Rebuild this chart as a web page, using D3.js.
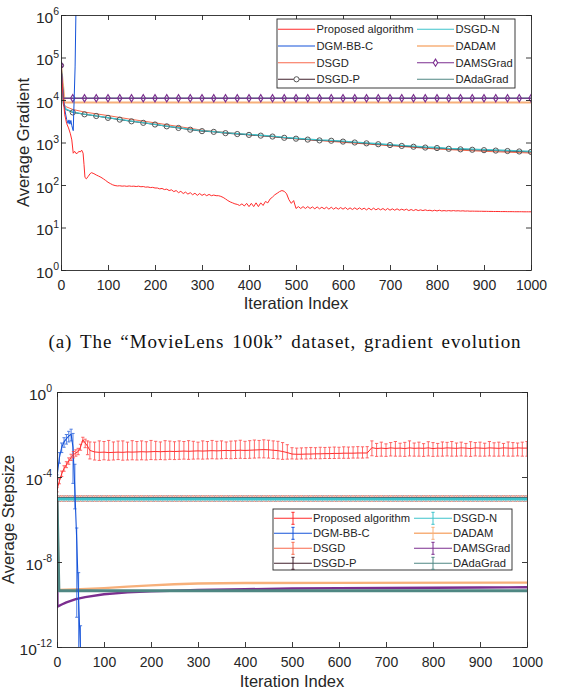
<!DOCTYPE html>
<html>
<head>
<meta charset="utf-8">
<script src="https://cdn.jsdelivr.net/npm/d3@7"></script>
<style>
  body { margin: 0; background: #fff; }
  svg { display: block; }
</style>
</head>
<body>
<svg id="fig" width="562" height="694"></svg>
<script>
// ---------- data ----------
const iterTicks = d3.range(0, 1001, 100);
const gradTicks = [1, 10, 100, 1e3, 1e4, 1e5, 1e6];
const stepTicks = [1e-12, 1e-8, 1e-4, 1];
const markIter = d3.range(0, 1001, 25);

const legendNames = ['Proposed algorithm', 'DGM-BB-C', 'DSGD', 'DSGD-P', 'DSGD-N', 'DADAM', 'DAMSGrad', 'DAdaGrad'];

// (a) average gradient
const propGradIter = [0,3,5,8,12,16,20,23,26,29,32,35,38,41,44,47,49,51,54,58,62,65,70,75,80,85,90,95,100,105,110,115,120]
  .concat(d3.range(125, 1001, 5));
const propGrad = [65000,20000,10000,4500,2800,2200,1600,1150,560,620,
  550,560,620,600,660,560,300,150,140,160,
  185,195,185,172,162,152,140,128,116,108,
  101,97,95,
  // 125 - 345
  96,94,95,93,95,93,94,92,94,91, 92,89,90,87,88,85,85,81,83,78,
  80,74,77,70,74,66,71,63,68,61, 66,59,64,57,63,57,61,56,60,56, 58,56,56,54,51,
  // 350 - 495
  47,43,40,38,36,35,33,36,32,37, 31,37,31,38,31,38,33,41,38,47, 52,59,64,70,74,71,62,45,37,43,
  // 500 - 1000
  28,31,28,31,28,31,28,30.5,27.5,30.5, 27.5,30,27.5,30,27,30,27,29.5,27,29.5,
  27,29.5,26.5,29,26.5,29,26.5,29,26.5,28.5, 26,28.5,26,28.5,26,28,26,28,25.5,28,
  25.5,27.5,25.5,27.5,25.5,27,25.5,27,25,26.5, 25,26.5,25,26,25,26,25,25.5,24.5,25.5,
  24.5,25.5,24.5,25,24.5,25,24.5,25,24.5,24.8, 24.4,24.7,24.3,24.5,24.2,24.3,24.2,24.2,24.1,24.1,
  24.0,24.0,23.9,23.9,23.8,23.8,23.8,23.7,23.7,23.7, 23.6,23.6,23.6,23.5,23.5,23.5,23.5,23.4,23.4,23.4,
  23.4];

const bbGradIter = [0,4,8,12,15,17,19,21,23,26,30,34];
const bbGrad = [65000,15000,6000,3500,2800,3400,2700,3300,2500,1900,60000,5e7];

const dsgdGradIter = [0,5,10,25,50,100,150,200,300,400,500,600,700,800,900,1000];
const dsgdGrad = [65000,8500,7000,6000,5200,4300,3500,2900,1950,1530,1220,1010,840,700,620,565];

const pnGradIter = [0,5,10].concat(d3.range(25, 1001, 25));
const dsgdpGrad = [65000,7900,6000,
  5100,4600,4200,3800,3450,3150,2900,2650,2400,2200,
  2000,1850,1780,1660,1580,1510,1450,1380,1290,1230,
  1170,1120,1100,1050,1000,955,910,870,830,795,
  760,740,710,690,675,660,645,630,615,600];
const dsgdnGrad = [65000,8500,6200,
  5200,4650,4230,3850,3500,3200,2930,2680,2440,2240,
  2040,1900,1810,1700,1620,1550,1480,1410,1320,1260,
  1200,1150,1125,1075,1025,980,935,895,855,818,
  783,763,730,713,697,681,666,650,635,620];

const dadamGradIter = [0,8,1000];
const dadamGrad = [65000,8700,8700];
const damsGradIter = [0,5,1000];
const damsGrad = [65000,11000,11000];
const dadaGradIter = [0,5,1000];
const dadaGrad = [65000,11000,11000];

// (b) average stepsize, log10 values
const propStepIter = [0,5,10,15,20,25,30,35,40,45,50,55,60,65,70].concat(d3.range(80, 1001, 10));
const propStepMean = [-4.6,-4.2,-3.85,-3.6,-3.42,-3.25,-3.08,-2.95,-2.87,-2.8,-2.6,-2.25,-2.4,-2.55,-2.75,
  -2.82,-2.84,-2.83,-2.85,-2.84,-2.83,-2.84,-2.82,-2.83,-2.82,
  -2.81,-2.82,-2.81,-2.80,-2.81,-2.80,-2.79,-2.80,-2.79,-2.78,
  -2.79,-2.78,-2.77,-2.78,-2.77,-2.76,-2.77,-2.76,-2.75,-2.76,
  -2.75,-2.74,-2.75,-2.74,-2.73,-2.72,-2.71,-2.72,-2.74,-2.76,
  -2.8,-2.85,
  -2.92,-2.93,-2.93,-2.92,-2.92,-2.91,-2.91,-2.9,-2.9,-2.89,-2.89,-2.88,-2.88,-2.88,-2.87,-2.87,-2.87,
  -2.62,-2.66,-2.64,-2.66,-2.63,-2.65,-2.64,-2.66,-2.63,-2.65,
  -2.64,-2.65,-2.63,-2.66,-2.64,-2.65,-2.63,-2.64,-2.65,-2.63,
  -2.64,-2.66,-2.63,-2.64,-2.65,-2.63,-2.64,-2.65,-2.63,-2.64,
  -2.65,-2.63,-2.64,-2.64];
const propStepLo = [-4.7,-4.32,-3.98,-3.73,-3.56,-3.4,-3.22,-3.1,-3.02,-2.95,-2.74,-2.35,-2.62,-2.95,-3.15,
  -3.2,-3.22,-3.19,-3.21,-3.2,-3.18,-3.21,-3.2,-3.19,-3.2,
  -3.19,-3.2,-3.18,-3.19,-3.18,-3.19,-3.17,-3.18,-3.17,-3.16,
  -3.17,-3.16,-3.15,-3.16,-3.15,-3.14,-3.15,-3.14,-3.13,-3.14,
  -3.13,-3.12,-3.13,-3.12,-3.11,-3.1,-3.1,-3.11,-3.13,-3.15,
  -3.17,-3.16,
  -3.15,-3.16,-3.15,-3.15,-3.14,-3.14,-3.14,-3.13,-3.13,-3.13,-3.12,-3.12,-3.12,-3.11,-3.11,-3.11,-3.1,
  -3.0,-3.03,-3.02,-3.03,-3.01,-3.02,-3.02,-3.03,-3.01,-3.02,
  -3.02,-3.03,-3.01,-3.03,-3.02,-3.02,-3.01,-3.02,-3.02,-3.01,
  -3.02,-3.03,-3.01,-3.02,-3.02,-3.01,-3.02,-3.02,-3.01,-3.02,
  -3.02,-3.01,-3.02,-3.02];
const propStepHi = [-4.5,-4.08,-3.72,-3.47,-3.28,-3.1,-2.93,-2.8,-2.72,-2.65,-2.46,-2.13,-2.22,-2.3,-2.35,
  -2.36,-2.3,-2.33,-2.28,-2.35,-2.31,-2.3,-2.36,-2.29,-2.33,
  -2.3,-2.34,-2.28,-2.32,-2.35,-2.29,-2.31,-2.34,-2.3,-2.33,
  -2.29,-2.32,-2.36,-2.3,-2.33,-2.28,-2.32,-2.3,-2.35,-2.31,
  -2.3,-2.27,-2.32,-2.29,-2.26,-2.28,-2.25,-2.27,-2.3,-2.32,
  -2.38,-2.48,
  -2.62,-2.64,-2.63,-2.62,-2.61,-2.62,-2.6,-2.61,-2.6,-2.59,-2.6,-2.58,-2.59,-2.58,-2.57,-2.58,-2.57,
  -2.3,-2.42,-2.36,-2.44,-2.38,-2.33,-2.41,-2.37,-2.3,-2.4,
  -2.36,-2.43,-2.34,-2.38,-2.42,-2.35,-2.37,-2.33,-2.4,-2.36,
  -2.42,-2.34,-2.38,-2.36,-2.41,-2.33,-2.39,-2.36,-2.42,-2.35,
  -2.38,-2.4,-2.36,-2.33];

const bbStepIter = [0,5,10,15,20,25,30,34,38,42,46,50,55];
const bbStepMean = [-4.0,-3.1,-2.6,-2.35,-2.2,-2.08,-1.98,-2.6,-4.6,-7.0,-9.8,-12.3,-14.5];
const bbStepLo = [-4.1,-3.35,-2.85,-2.6,-2.45,-2.35,-2.3,-4.3,-5.5,-10.6,-12.5,-14,-16];
const bbStepHi = [-3.9,-2.85,-2.4,-2.15,-2.0,-1.85,-1.75,-1.95,-3.4,-6.4,-8.5,-11,-13];

// flat runs: DSGD, DSGD-P, DSGD-N (mean, lo, hi)
const flatIter = d3.range(0, 1001, 10);
const dsgdStep = [-4.95, -5.15, -4.87];
const dsgdpStep = [-4.97, -5.16, -4.88];
const dsgdnStep = [-5.03, -5.06, -5.0];

const dadamStepIter = [0,4,50,100,150,200,250,300,400,600,1000];
const dadamStep = [-5,-9.32,-9.28,-9.23,-9.16,-9.1,-9.05,-9.01,-8.99,-8.98,-8.97];
const damsStepIter = [0,1,10,20,40,60,100,150,200,300,400,500,600,700,800,900,1000];
const damsStep = [-5,-10.1,-10.0,-9.9,-9.75,-9.65,-9.52,-9.43,-9.38,-9.32,-9.28,-9.25,-9.23,-9.22,-9.21,-9.2,-9.19];
const dadaStepIter = [0,4,1000];
const dadaStep = [-5,-9.35,-9.35];

// ---------- style ----------
const ink = '#262626';
const sans = '"Liberation Sans", Arial, Helvetica, sans-serif';
const col = {
  prop: '#ff2b2b', bb: '#1553d9', dsgd: '#f8694c', dsgdp: '#40202c',
  dsgdn: '#3ec3cb', dadam: '#f7b07a', dams: '#7b2e8f', dada: '#4f8783'
};
const legendCols = [col.prop, col.bb, col.dsgd, col.dsgdp, col.dsgdn, col.dadam, col.dams, col.dada];

const svg = d3.select('#fig');

const boxA = {x0: 61, x1: 531, y0: 15, y1: 270};
const boxB = {x0: 57, x1: 527, y0: 392, y1: 647};
const xA = d3.scaleLinear().domain([0, 1000]).range([boxA.x0, boxA.x1]);
const yA = d3.scaleLog().domain([1, 1e6]).range([boxA.y1, boxA.y0]);
const xB = d3.scaleLinear().domain([0, 1000]).range([boxB.x0, boxB.x1]);
const yB = d3.scaleLog().domain([1e-12, 1]).range([boxB.y1, boxB.y0]);

const defs = svg.append('defs');
[['clipA', boxA], ['clipB', boxB]].forEach(([id, b]) => {
  defs.append('clipPath').attr('id', id).append('rect')
    .attr('x', b.x0).attr('y', b.y0).attr('width', b.x1 - b.x0).attr('height', b.y1 - b.y0);
});

function valueAt(xs, vs, t) {
  const i = Math.max(1, Math.min(xs.length - 1, d3.bisectLeft(xs, t)));
  const f = (t - xs[i - 1]) / (xs[i] - xs[i - 1]);
  return Math.pow(10, Math.log10(vs[i - 1]) * (1 - f) + Math.log10(vs[i]) * f);
}

function frame(box, x, y, yTicks, labelGap) {
  const g = svg.append('g');
  const axes = [
    g.append('g').attr('transform', `translate(0,${box.y1})`)
      .call(d3.axisBottom(x).tickValues(iterTicks).tickSize(-5).tickSizeOuter(0).tickPadding(10.5).tickFormat(d3.format('d'))),
    g.append('g').attr('transform', `translate(0,${box.y0})`)
      .call(d3.axisTop(x).tickValues(iterTicks).tickSize(-5).tickSizeOuter(0).tickFormat('')),
    g.append('g').attr('transform', `translate(${box.x0},0)`)
      .call(d3.axisLeft(y).tickValues(yTicks).tickSize(-5).tickSizeOuter(0).tickFormat('')),
    g.append('g').attr('transform', `translate(${box.x1},0)`)
      .call(d3.axisRight(y).tickValues(yTicks).tickSize(-5).tickSizeOuter(0).tickFormat(''))
  ];
  axes.forEach(a => {
    a.attr('font-family', sans).attr('font-size', 14);
    a.selectAll('path, line').attr('stroke', ink).attr('stroke-width', 0.9);
    a.selectAll('text').attr('fill', ink);
  });
  yTicks.forEach(v => {
    const t = g.append('text')
      .attr('x', box.x0 - labelGap).attr('y', y(v) + 7.5)
      .attr('text-anchor', 'end').attr('fill', ink)
      .style('font-family', sans).style('font-size', '15.5px');
    t.append('tspan').text('10');
    t.append('tspan').attr('dy', -7.5).style('font-size', '10.5px').text(Math.round(Math.log10(v)));
  });
  return g;
}

function plotLine(g, x, y, xs, vs, color, width) {
  g.append('path')
    .datum(xs.map((d, i) => [d, vs[i]]))
    .attr('fill', 'none').attr('stroke', color).attr('stroke-width', width)
    .attr('stroke-linejoin', 'round')
    .attr('d', d3.line().x(d => x(d[0])).y(d => y(d[1])));
}

function errorBars(g, x, y, xs, lo, hi, color, width, opacity) {
  const bars = g.append('g').attr('stroke', color).attr('stroke-width', width).attr('opacity', opacity);
  xs.forEach((d, i) => {
    const px = x(d), a = y(Math.pow(10, lo[i])), b = y(Math.pow(10, hi[i]));
    bars.append('line').attr('x1', px).attr('x2', px).attr('y1', a).attr('y2', b);
    bars.append('line').attr('x1', px - 1.6).attr('x2', px + 1.6).attr('y1', a).attr('y2', a);
    bars.append('line').attr('x1', px - 1.6).attr('x2', px + 1.6).attr('y1', b).attr('y2', b);
  });
}

const diamond = 'M0,-3.6L2.2,0L0,3.6L-2.2,0Z';

// ---------- panel (a) ----------
const plotA = svg.append('g').attr('clip-path', 'url(#clipA)');
plotLine(plotA, xA, yA, dadamGradIter, dadamGrad, col.dadam, 2);
plotLine(plotA, xA, yA, dadaGradIter, dadaGrad, col.dada, 1.6);
plotLine(plotA, xA, yA, damsGradIter, damsGrad, col.dams, 1);
plotLine(plotA, xA, yA, dsgdGradIter, dsgdGrad, col.dsgd, 1);
plotLine(plotA, xA, yA, pnGradIter, dsgdpGrad, col.dsgdp, 1);
plotLine(plotA, xA, yA, pnGradIter, dsgdnGrad, col.dsgdn, 1.3);
plotA.selectAll('.circ').data(markIter).enter().append('circle')
  .attr('cx', d => xA(d)).attr('cy', d => yA(valueAt(pnGradIter, dsgdpGrad, d)))
  .attr('r', 2.6).attr('fill', 'none').attr('stroke', '#555').attr('stroke-width', 1);
plotA.selectAll('.diam').data(markIter).enter().append('path')
  .attr('d', diamond)
  .attr('transform', d => `translate(${xA(d)},${yA(valueAt(damsGradIter, damsGrad, d))})`)
  .attr('fill', 'none').attr('stroke', col.dams).attr('stroke-width', 1.1);
plotLine(plotA, xA, yA, bbGradIter, bbGrad, col.bb, 1);
plotLine(plotA, xA, yA, propGradIter, propGrad, col.prop, 1);

frame(boxA, xA, yA, gradTicks, 2);

// ---------- panel (b) ----------
const plotB = svg.append('g').attr('clip-path', 'url(#clipB)');
plotLine(plotB, xB, yB, dadamStepIter, dadamStep.map(e => Math.pow(10, e)), col.dadam, 2.4);
plotLine(plotB, xB, yB, damsStepIter, damsStep.map(e => Math.pow(10, e)), col.dams, 2.4);
plotLine(plotB, xB, yB, dadaStepIter, dadaStep.map(e => Math.pow(10, e)), col.dada, 3);

const flatLo = s => flatIter.map(() => s[1]);
const flatHi = s => flatIter.map(() => s[2]);
errorBars(plotB, xB, yB, flatIter, flatLo(dsgdStep), flatHi(dsgdStep), col.dsgd, 0.8, 0.6);
errorBars(plotB, xB, yB, flatIter.map(d => d + 5).slice(0, -1), flatLo(dsgdpStep), flatHi(dsgdpStep), col.dsgdp, 0.7, 0.45);
plotLine(plotB, xB, yB, [0, 1000], [Math.pow(10, dsgdStep[0]), Math.pow(10, dsgdStep[0])], col.dsgd, 1);
plotLine(plotB, xB, yB, [0, 1000], [Math.pow(10, dsgdpStep[0]), Math.pow(10, dsgdpStep[0])], col.dsgdp, 1);
plotLine(plotB, xB, yB, [0, 1000], [Math.pow(10, dsgdnStep[0]), Math.pow(10, dsgdnStep[0])], col.dsgdn, 3);

errorBars(plotB, xB, yB, bbStepIter, bbStepLo, bbStepHi, col.bb, 1, 0.75);
plotLine(plotB, xB, yB, bbStepIter, bbStepMean.map(e => Math.pow(10, e)), col.bb, 1.1);
errorBars(plotB, xB, yB, propStepIter, propStepLo, propStepHi, '#ff3a3a', 0.9, 0.85);
plotLine(plotB, xB, yB, propStepIter, propStepMean.map(e => Math.pow(10, e)), col.prop, 1);

frame(boxB, xB, yB, stepTicks, 5);

// ---------- legends ----------
function legend(box, rows, c1, c2, withBars) {
  const g = svg.append('g');
  g.append('rect').attr('x', box.x).attr('y', box.y).attr('width', box.w).attr('height', box.h)
    .attr('fill', '#fff').attr('stroke', ink).attr('stroke-width', 0.9);
  legendNames.forEach((name, i) => {
    const c = i < 4 ? c1 : c2;
    const yy = rows[i % 4];
    const color = legendCols[i];
    g.append('line').attr('x1', c.l0).attr('x2', c.l1).attr('y1', yy).attr('y2', yy)
      .attr('stroke', color).attr('stroke-width', i === 5 ? 1.6 : 1.1);
    const mx = (c.l0 + c.l1) / 2;
    if (withBars) {
      g.append('path').attr('d', `M${mx},${yy - 6}V${yy + 6}M${mx - 1.6},${yy - 6}H${mx + 1.6}M${mx - 1.6},${yy + 6}H${mx + 1.6}`)
        .attr('stroke', color).attr('stroke-width', 1).attr('fill', 'none');
    } else if (name === 'DSGD-P') {
      g.append('circle').attr('cx', mx).attr('cy', yy).attr('r', 2.6)
        .attr('fill', '#fff').attr('stroke', '#555');
    } else if (name === 'DAMSGrad') {
      g.append('path').attr('d', diamond).attr('transform', `translate(${mx},${yy})`)
        .attr('fill', '#fff').attr('stroke', col.dams).attr('stroke-width', 1.1);
    }
    g.append('text').attr('x', c.t).attr('y', yy + 4).attr('fill', ink)
      .style('font-family', sans).style('font-size', '11.2px').text(name);
  });
}

legend({x: 277, y: 19, w: 238, h: 69}, [29.3, 46, 62.7, 79.3],
  {l0: 278, l1: 315, t: 316.5}, {l0: 417, l1: 454, t: 455.5}, false);
legend({x: 273, y: 509, w: 239, h: 61}, [518.3, 533.3, 548.3, 563.3],
  {l0: 274, l1: 312, t: 313}, {l0: 414, l1: 452, t: 453}, true);

// ---------- titles ----------
const axisTitle = (x, y, rot, text) => svg.append('text')
  .attr('transform', `translate(${x},${y}) rotate(${rot})`)
  .attr('text-anchor', 'middle').attr('fill', ink)
  .style('font-family', sans).style('font-size', '16.5px').text(text);

axisTitle((boxA.x0 + boxA.x1) / 2, 309, 0, 'Iteration Index');
axisTitle(29, (boxA.y0 + boxA.y1) / 2, -90, 'Average Gradient');
axisTitle((boxB.x0 + boxB.x1) / 2, 687, 0, 'Iteration Index');
axisTitle(14, (boxB.y0 + boxB.y1) / 2, -90, 'Average Stepsize');

// caption, justified across the column
const caption = svg.append('text').attr('x', 48.5).attr('y', 347.5)
  .attr('fill', '#111')
  .style('font-family', '"Liberation Serif", "Times New Roman", serif').style('font-size', '19px')
  .style('letter-spacing', '0.9px')
  .text('(a) The \u201cMovieLens 100k\u201d dataset, gradient evolution');
const natural = caption.node().getComputedTextLength();
caption.style('word-spacing', Math.max(0, (473 - natural) / 6) + 'px');
</script>
</body>
</html>
